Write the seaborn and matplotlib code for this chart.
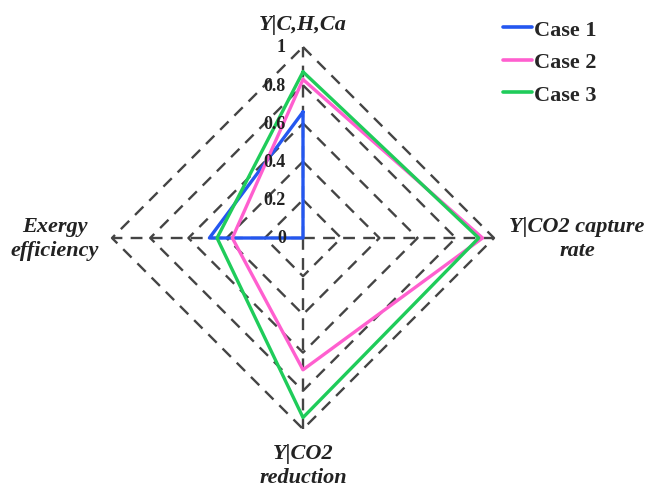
import numpy as np
import pandas as pd
import seaborn as sns
from matplotlib import pyplot as plt

# Radar axes, clockwise from the top
axes_labels = ["Y|C,H,Ca", "Y|CO2 capture\nrate", "Y|CO2\nreduction", "Exergy\nefficiency"]
cases = ["Case 1", "Case 2", "Case 3"]
case1 = [0.66, 0.0, 0.0, 0.49]
case2 = [0.83, 0.94, 0.69, 0.37]
case3 = [0.87, 0.92, 0.94, 0.45]
levels = [0.2, 0.4, 0.6, 0.8, 1.0]
tick_labels = ["0", "0.2", "0.4", "0.6", "0.8", "1"]
colors = ["#2457f0", "#ff5fcf", "#1fcc5a"]

sns.set_style("white")
plt.rcParams["font.family"] = ["Liberation Serif", "DejaVu Serif"]

# angles: top, right, bottom, left
ang = np.pi / 2 - np.arange(4) * np.pi / 2


def to_xy(vals):
    v = np.append(vals, vals[0])
    a = np.append(ang, ang[0])
    return v * np.cos(a), v * np.sin(a)


rows = []
for name, vals in zip(cases, [case1, case2, case3]):
    xs, ys = to_xy(np.array(vals))
    for i, (x, y) in enumerate(zip(xs, ys)):
        rows.append({"case": name, "order": i, "x": x, "y": y})
df = pd.DataFrame(rows)

fig = plt.figure(figsize=(6.51, 4.89), dpi=100)
ax = fig.add_axes([0, 0, 1, 1])
unit = 191.0
ax.set_xlim(-303 / unit, (651 - 303) / unit)
ax.set_ylim(-250 / unit, 239 / unit)
ax.set_aspect("equal")
ax.axis("off")

# dashed diamond grid and spokes
grid_kw = dict(color="#444444", lw=1.7, ls=(0, (5, 3.5)), zorder=1)
for lv in levels:
    gx, gy = to_xy(np.full(4, lv))
    ax.plot(gx, gy, **grid_kw)
for a in ang:
    ax.plot([0, np.cos(a)], [0, np.sin(a)], **grid_kw)

sns.lineplot(data=df, x="x", y="y", hue="case", sort=False, estimator=None,
             palette=colors, linewidth=2.4, ax=ax, zorder=3)

# radial tick labels on top spoke
for v, t in zip([0] + levels, tick_labels):
    ax.text(-0.09, v, t, ha="right", va="center", fontsize=13,
            fontweight="bold", color="#222222", zorder=4)

# axis labels
lab_kw = dict(fontsize=16, fontweight="bold", style="italic", color="#222222",
              linespacing=1.25)
ax.text(0, 1.12, axes_labels[0], ha="center", va="center", **lab_kw)
ax.text(1.435, 0.0, axes_labels[1], ha="center", va="center", **lab_kw)
ax.text(0, -1.19, axes_labels[2], ha="center", va="center", **lab_kw)
ax.text(-1.30, 0.0, axes_labels[3], ha="center", va="center", **lab_kw)

leg = ax.legend(loc="upper right", bbox_to_anchor=(0.947, 1.0), frameon=False,
                prop={"family": "Liberation Serif", "weight": "bold", "size": 16},
                handlelength=1.3, handletextpad=0.1, labelspacing=0.55)
for line in leg.get_lines():
    line.set_linewidth(2.6)

fig.savefig("out.png", dpi=100)
